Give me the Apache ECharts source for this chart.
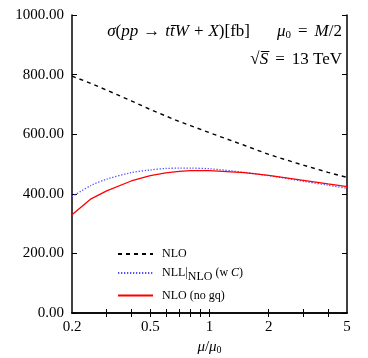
<!DOCTYPE html>
<html><head><meta charset="utf-8">
<script src="https://cdn.jsdelivr.net/npm/echarts@6/dist/echarts.min.js"></script>
<style>html,body{margin:0;padding:0;background:#fff}#c{width:368px;height:358px}</style>
</head><body><div id="c"></div>
<script>
const mu = [0.2, 0.25, 0.3, 0.4, 0.5, 0.6, 0.7, 0.8, 1, 1.5, 2, 3, 4, 5];
const nlo = [795, 770, 748, 712, 683, 661, 643, 629, 605, 563, 532, 496, 472, 455];
const nllMatched = [390, 428, 449, 471, 480, 485, 486, 486, 484, 472, 461, 442, 429, 418];
const nloNoGq = [330, 383, 410, 443, 461, 470, 475, 478, 478, 471, 462, 445, 433, 424];
const xLabelValues = [0.2, 0.5, 1, 2, 5];
const xTickValues = [0.3, 0.4, 0.5, 0.6, 0.7, 0.8, 0.9, 1, 2, 3, 4];
const seriesNames = ['NLO', 'NLL', 'NLOnogq'];

const FONT = 'Liberation Serif';
const chart = echarts.init(document.getElementById('c'));
const pairs = (ys) => mu.map((m, i) => [m, ys[i]]);
const xBase = (pos, show) => ({
  type: 'log', logBase: 10, min: 0.2, max: 5, position: pos,
  axisLine: { show: true, lineStyle: { color: '#000', width: 1.5 } },
  axisTick: { show: true, inside: true, length: 4, customValues: xTickValues, lineStyle: { color: '#000', width: 1 } },
  minorTick: { show: false },
  splitLine: { show: false },
  axisLabel: { show: show, customValues: xLabelValues, color: '#000', fontFamily: FONT, fontSize: 15, margin: 7,
    formatter: v => String(+v.toPrecision(3)) }
});
const yBase = (pos, show) => ({
  type: 'value', min: 0, max: 1000, interval: 200, position: pos,
  axisLine: { show: true, lineStyle: { color: '#000', width: 1.5 } },
  axisTick: { show: true, inside: true, length: 5, lineStyle: { color: '#000', width: 1 } },
  splitLine: { show: false },
  axisLabel: { show: show, color: '#000', fontFamily: FONT, fontSize: 15, margin: 8, formatter: v => v.toFixed(2) }
});
const xa = xBase('bottom', true);
xa.name = '{i|μ}/{i|μ}{s|0}';
xa.nameLocation = 'middle';
xa.nameGap = 26;
xa.nameTextStyle = { color: '#000', fontFamily: FONT, fontSize: 15,
  rich: { i: { fontFamily: FONT, fontStyle: 'italic', fontSize: 15, color: '#000' },
          s: { fontFamily: FONT, fontSize: 10, color: '#000', padding: [6, 0, 0, 0] } } };
const xt = xBase('top', false);
const yr = yBase('right', false);

const option = {
  animation: false,
  grid: { left: 72, right: 21, top: 15, bottom: 45, containLabel: false, outerBoundsMode: 'none' },
  xAxis: [xa, xt],
  yAxis: [yBase('left', true), yr],
  legend: {
    orient: 'vertical', left: 112, top: 243, itemWidth: 35, itemHeight: 12, itemGap: 7,
    data: seriesNames,
    itemStyle: { opacity: 0 },
    textStyle: { fontFamily: FONT, fontSize: 12, color: '#000', padding: [0, 0, 0, 4],
      rich: {
        a: { fontFamily: FONT, fontSize: 12, color: '#000' },
        s: { fontFamily: FONT, fontSize: 12, color: '#000', padding: [7, 0, 0, 0] },
        c: { fontFamily: FONT, fontSize: 12, fontStyle: 'italic', color: '#000' }
      } },
    formatter: n => n === 'NLO' ? '{a|NLO}' : n === 'NLL' ? '{a|NLL|}{s|NLO}{a| (w }{c|C}{a|)}' : '{a|NLO (no gq)}'
  },
  graphic: [
    { type: 'text', right: 26, top: 23, style: {
      text: '{i|σ}({i|pp}{a|→}{i|t}{i|t̄}{i|W}{a|+}{i|X})[fb]{g| }{i|μ}{s|0}{e|=}{i|M}/2',
      fill: '#000', font: '17px "Liberation Serif"',
      rich: { i: { fontFamily: FONT, fontStyle: 'italic', fontSize: 17 },
              a: { fontFamily: FONT, fontSize: 17, padding: [0, 5, 0, 5] },
              e: { fontFamily: FONT, fontSize: 17, padding: [0, 7, 0, 7] },
              g: { fontFamily: FONT, fontSize: 17, width: 27 },
              s: { fontFamily: FONT, fontSize: 11, padding: [7, 0, 0, 0] } } } },
    { type: 'text', right: 26, top: 51, style: { text: '√{i|S̅}{e|=}13 TeV', fill: '#000', font: '17px "Liberation Serif"',
      rich: { i: { fontFamily: FONT, fontStyle: 'italic', fontSize: 17 },
              e: { fontFamily: FONT, fontSize: 17, padding: [0, 7, 0, 7] } } } }
  ],
  series: [
    { name: 'NLO', type: 'line', data: pairs(nlo), showSymbol: false, symbol: 'none',
      lineStyle: { color: '#000', width: 1.4, type: [4, 4] }, itemStyle: { color: '#000' } },
    { name: 'NLL', type: 'line', data: pairs(nllMatched), showSymbol: false, symbol: 'none', smooth: 0.3,
      lineStyle: { color: '#5050ff', width: 1.3, type: [1.3, 1.7] }, itemStyle: { color: '#5050ff' } },
    { name: 'NLOnogq', type: 'line', data: pairs(nloNoGq), showSymbol: false, symbol: 'none',
      lineStyle: { color: '#ff0000', width: 1.3 }, itemStyle: { color: '#ff0000' } }
  ]
};
chart.setOption(option);
</script></body></html>
